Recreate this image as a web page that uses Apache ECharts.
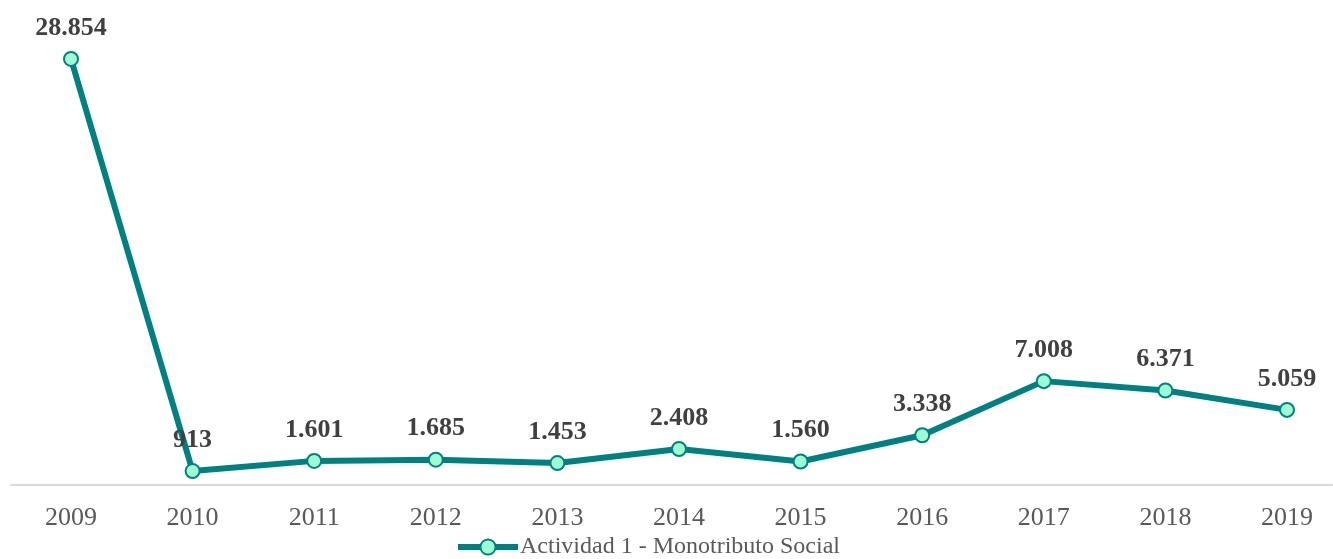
<!DOCTYPE html>
<html>
<head>
<meta charset="utf-8">
<style>
  html, body { margin: 0; padding: 0; background: #ffffff; }
  #chart { width: 1333px; height: 559px; }
</style>
<script src="https://cdn.jsdelivr.net/npm/echarts@6/dist/echarts.min.js"></script>
</head>
<body>
<div id="chart"></div>
<script>
// Years on the horizontal axis
const years = ['2009', '2010', '2011', '2012', '2013', '2014', '2015', '2016', '2017', '2018', '2019'];
// Activity 1 - Monotributo Social, count per year
const monotributo = [28854, 913, 1601, 1685, 1453, 2408, 1560, 3338, 7008, 6371, 5059];
const seriesName = 'Actividad 1 - Monotributo Social';

const serif = '"Liberation Serif", "DejaVu Serif", serif';
const teal = '#008080';
const mint = '#9CFCD2';

// Thousands separator with a dot
function fmt(v) {
  return String(v).replace(/\B(?=(\d{3})+(?!\d))/g, '.');
}

const chart = echarts.init(document.getElementById('chart'), null, { renderer: 'canvas' });

chart.setOption({
  backgroundColor: '#ffffff',
  animation: false,
  grid: [
    { left: 71, right: 46, top: 42, bottom: 74.5 },
    // wider grid only carrying the baseline across the full width
    { left: 11, right: 1, top: 42, bottom: 74.5 }
  ],
  xAxis: [
    {
      type: 'category',
      gridIndex: 0,
      data: years,
      boundaryGap: false,
      axisLine: { show: false },
      axisTick: { show: false },
      axisLabel: {
        margin: 21,
        fontFamily: serif,
        fontSize: 26,
        color: '#595959'
      }
    },
    {
      type: 'category',
      gridIndex: 1,
      data: years,
      axisLine: { show: true, lineStyle: { color: '#d9d9d9', width: 2 } },
      axisTick: { show: false },
      axisLabel: { show: false }
    }
  ],
  yAxis: [
    { type: 'value', gridIndex: 0, min: 0, max: 30000, show: false, splitLine: { show: false } },
    { type: 'value', gridIndex: 1, min: 0, max: 30000, show: false, splitLine: { show: false } }
  ],
  legend: {
    top: 530,
    left: 450,
    itemWidth: 60,
    itemHeight: 19,
    itemGap: 0,
    lineStyle: { width: 6 },
    textStyle: { fontFamily: serif, fontSize: 24, color: '#595959', padding: [0, 0, 0, -3] },
    data: [seriesName]
  },
  series: [
    {
      name: seriesName,
      type: 'line',
      xAxisIndex: 0,
      yAxisIndex: 0,
      data: monotributo,
      symbol: 'circle',
      symbolSize: 14,
      lineStyle: { color: teal, width: 6 },
      itemStyle: { color: mint, borderColor: teal, borderWidth: 2 },
      label: {
        show: true,
        position: 'top',
        distance: 10,
        fontFamily: serif,
        fontWeight: 'bold',
        fontSize: 26,
        color: '#404040',
        formatter: p => fmt(p.value)
      }
    }
  ]
});
</script>
</body>
</html>
